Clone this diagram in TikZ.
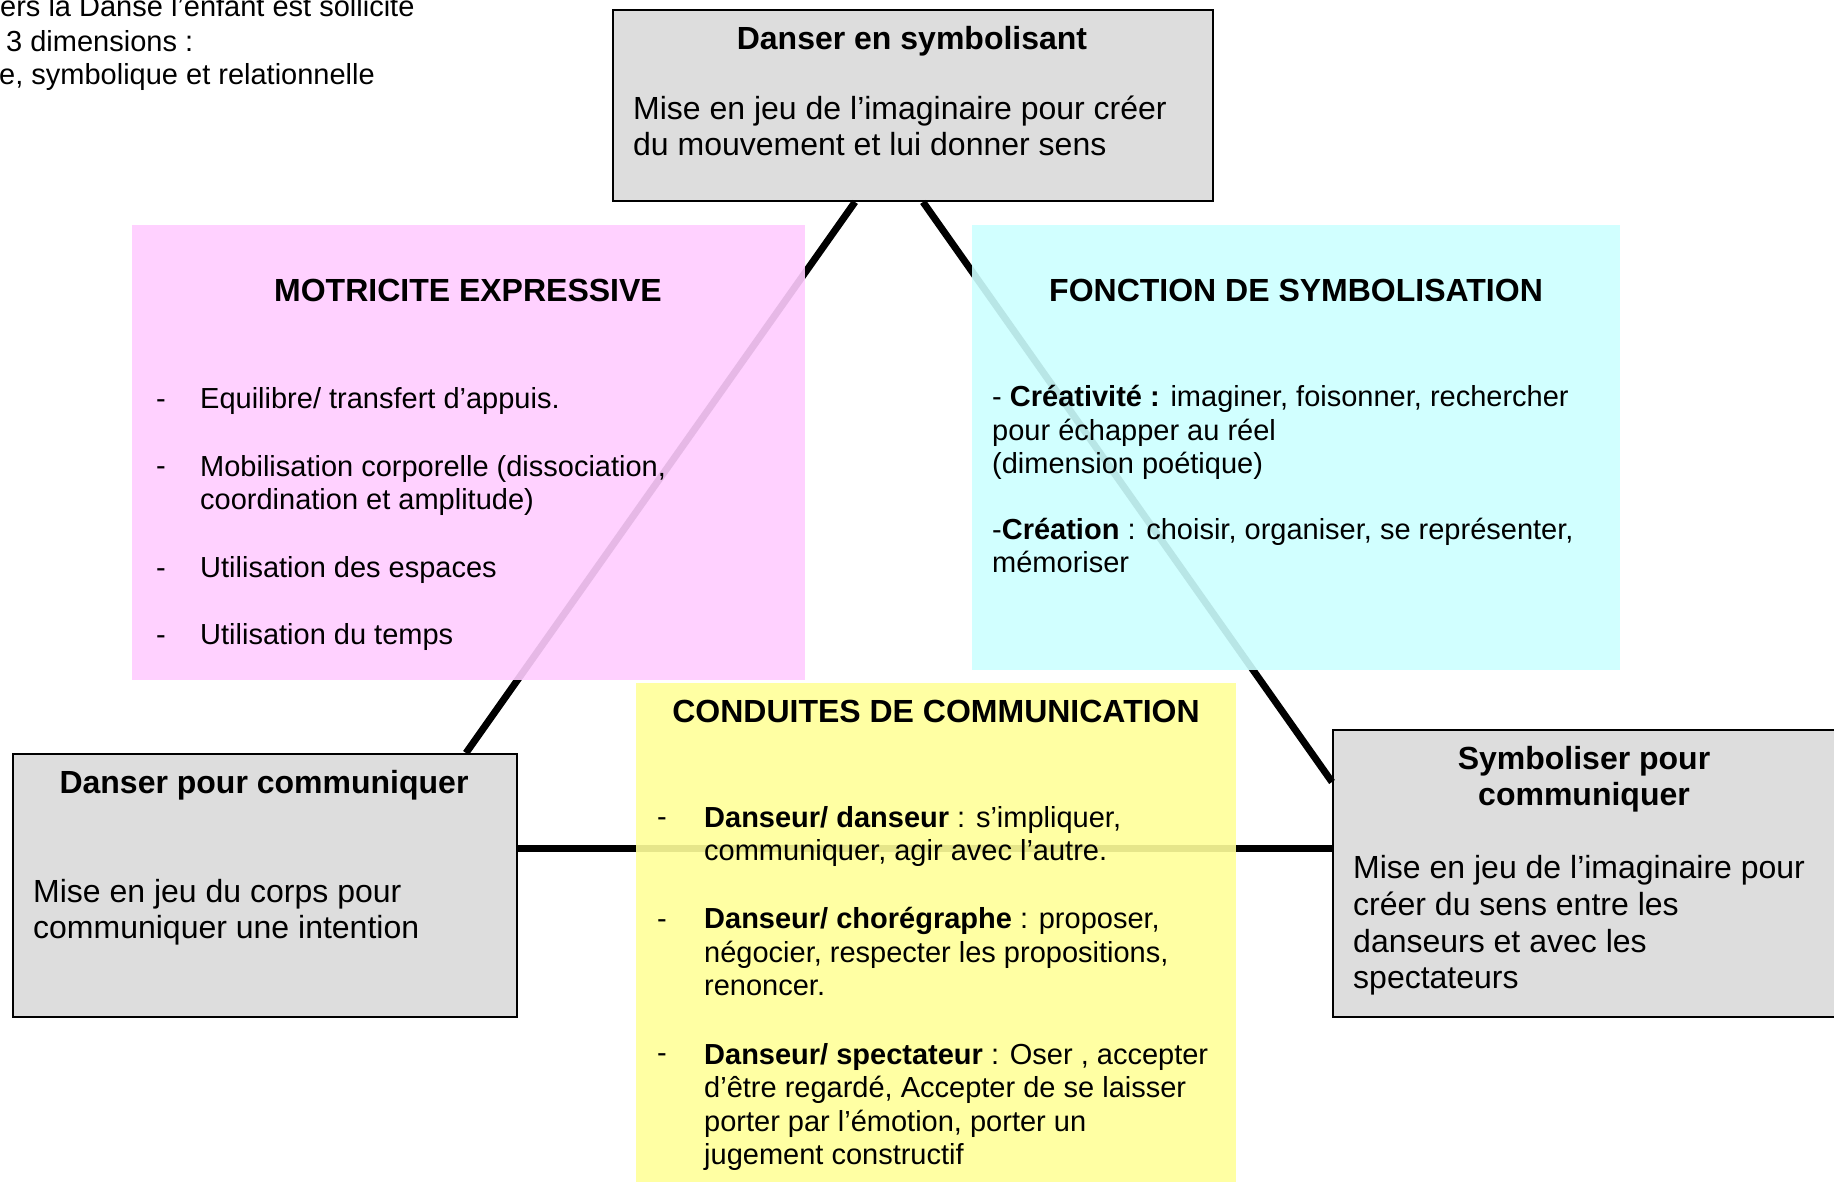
\documentclass[tikz,border=0pt]{standalone}
\usepackage{fontspec}
\setmainfont{Liberation Sans}
\usetikzlibrary{calc,positioning}

\definecolor{boxgray}{RGB}{221,221,221}
\definecolor{boxpink}{RGB}{255,204,255}
\definecolor{boxcyan}{RGB}{204,255,255}
\definecolor{boxyellow}{RGB}{255,255,153}

\newcommand{\smalltxt}{\fontsize{29}{33.5}\selectfont}
\newcommand{\bigtxt}{\fontsize{32}{36.8}\selectfont}

\tikzset{
  graybox/.style={draw=black, line width=2pt, fill=boxgray, anchor=north west, inner sep=0pt},
  colbox/.style={fill opacity=0.9, anchor=north west, inner sep=0pt},
  titletxt/.style={anchor=base, inner sep=0pt, font=\bigtxt\bfseries, align=center},
  bodytxt/.style={anchor=base west, inner sep=0pt, font=\bigtxt, align=left},
  itemtxt/.style={anchor=base west, inner sep=0pt, font=\smalltxt, align=left},
  link/.style={line width=7pt}
}

\begin{document}
\begin{tikzpicture}[x=1pt, y=1pt]

                % Page frame.
                \useasboundingbox (0,0) rectangle (1834,1182);
                \fill[white] (0,0) rectangle (1834,1182);

                % Note in the corner (multi-line nodes sit on their last baseline).
                \node[itemtxt] (note1) at (0,1165) {ers la Danse l’enfant est sollicité};
                \node[itemtxt] (note2) at (6,1130) {3 dimensions :};
                \node[itemtxt] (note3) at (-1,1097) {e, symbolique et relationnelle};

                % The three gray boxes.
                \node[graybox, minimum width=600pt, minimum height=191pt] (sym) at (612,1173) {};
                \node[graybox, minimum width=504pt, minimum height=263pt] (com) at (12,429) {};
                \node[graybox, minimum width=518pt, minimum height=287pt] (symcom) at (1332,453) {};

                % Links of the triangle.
                \draw[link] ($(sym.south)+(-58,0)$) -- ($(com.north)+(201,0)$);
                \draw[link] ($(sym.south)+(10,0)$) -- ($(symcom.west)+(0,91.5)$);
                \draw[link] ($(com.east)+(0,36.5)$) -- ($(symcom.west)+(0,24.5)$);

                % Coloured boxes over the links.
                \node[colbox, fill=boxpink, minimum width=673pt, minimum height=455pt] (motr) at (132,957) {};
                \node[colbox, fill=boxcyan, minimum width=648pt, minimum height=445pt] (fonc) at (972,957) {};
                \node[colbox, fill=boxyellow, minimum width=600pt, minimum height=499pt] (cond) at (636,499) {};

                % Danser en symbolisant.
                \node[titletxt] (symT) at (912,1132) {Danser en symbolisant};
                \node[bodytxt] (symB) at (633,1026) {Mise en jeu de l’imaginaire pour créer\\du mouvement et lui donner sens};

                % Danser pour communiquer.
                \node[titletxt] (comT) at (264,388) {Danser pour communiquer};
                \node[bodytxt] (comB) at (33,243) {Mise en jeu du corps pour\\communiquer une intention};

                % Symboliser pour communiquer.
                \node[titletxt] (symcomT) at (1584,376) {Symboliser pour\\communiquer};
                \node[bodytxt] (symcomB) at (1353,193) {Mise en jeu de l’imaginaire pour\\créer du sens entre les\\danseurs et avec les\\spectateurs};

                % Motricite expressive.
                \node[titletxt] (motrT) at (468,880) {MOTRICITE EXPRESSIVE};
                \foreach \y/\yy/\txt [count=\i] in {773/773/{Equilibre/ transfert d’appuis.},
                    706/672/{Mobilisation corporelle (dissociation,\\coordination et amplitude)},
                    604/604/{Utilisation des espaces},
                    537/537/{Utilisation du temps}}{
                  \node[itemtxt] (motrD\i) at (156,\y) {-};
                  \node[itemtxt] (motrI\i) at (200,\yy) {\txt};
                }

                % Fonction de symbolisation.
                \node[titletxt] (foncT) at (1296,880) {FONCTION DE SYMBOLISATION};
                \node[itemtxt] (foncB) at (992,609) {- \textbf{Créativité :} imaginer, foisonner, rechercher\\pour échapper au réel\\(dimension poétique)\\[32pt]-\textbf{Création} : choisir, organiser, se représenter,\\mémoriser};

                % Conduites de communication.
                \node[titletxt] (condT) at (936,459) {CONDUITES DE COMMUNICATION};
                \foreach \y/\yy/\txt [count=\i] in {355/321/{\textbf{Danseur/ danseur} : s’impliquer,\\communiquer, agir avec l’autre.},
                    253/186/{\textbf{Danseur/ chorégraphe} : proposer,\\négocier, respecter les propositions,\\renoncer.},
                    119/17/{\textbf{Danseur/ spectateur} : Oser , accepter\\d’être regardé, Accepter de se laisser\\porter par l’émotion, porter un\\jugement constructif}}{
                  \node[itemtxt] (condD\i) at (657,\y) {-};
                  \node[itemtxt] (condI\i) at (704,\yy) {\txt};
                }
                \end{tikzpicture}
\end{document}
